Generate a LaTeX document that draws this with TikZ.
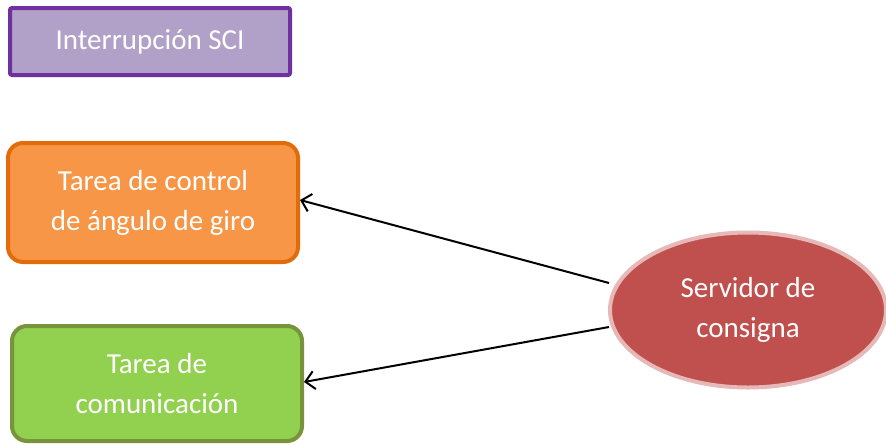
\documentclass[tikz,border=0pt]{standalone}
\usepackage{fontspec}
\setmainfont{Carlito}
\usetikzlibrary{shapes.geometric,arrows.meta}
\definecolor{lilacfill}{HTML}{B1A0C7}
\definecolor{lilacline}{HTML}{7030A0}
\definecolor{orangefill}{HTML}{F79646}
\definecolor{orangeline}{HTML}{E36C0A}
\definecolor{greenfill}{HTML}{92D050}
\definecolor{greenline}{HTML}{77933C}
\definecolor{redfill}{HTML}{C0504D}
\definecolor{redline}{HTML}{E6B9B8}
\tikzset{
  x=1pt, y=-1pt,
  lbl/.style={text=white, font=\fontsize{29}{40}\selectfont, align=center},
  taskbox/.style={lbl, rounded corners=15pt, line width=4pt, inner sep=0pt},
  link/.style={line width=2pt, -{Straight Barb[length=9pt,width=18pt,line width=2pt]}}
}
\begin{document}
\begin{tikzpicture}
\useasboundingbox (0,0) rectangle (886,445);
% interrupt source
\node[lbl, draw=lilacline, fill=lilacfill, line width=4pt, rounded corners=2pt,
      minimum width=280pt, minimum height=67pt, inner sep=0pt] (sci) at (150,41.5) {Interrupción SCI};
% tasks
\node[taskbox, draw=orangeline, fill=orangefill, minimum width=290pt, minimum height=119pt]
  (ctrl) at (153,202.5) {Tarea de control\\de ángulo de giro};
\node[taskbox, draw=greenline, fill=greenfill, minimum width=290pt, minimum height=115pt]
  (com) at (157,383.5) {Tarea de\\comunicación};
% setpoint server
\node[lbl, ellipse, draw=redline, fill=redfill, line width=4pt, minimum width=276pt,
      minimum height=155pt, inner sep=0pt] (srv) at (748,310) {Servidor de\\consigna};
% connectors
\draw[link] (srv.west |- 0,283) ++(1,0) coordinate (s1) -- (ctrl.east |- 0,200);
\draw[link] (srv.west |- 0,327) ++(1,0) coordinate (s2) -- (com.east |- 0,382);
\end{tikzpicture}
\end{document}
